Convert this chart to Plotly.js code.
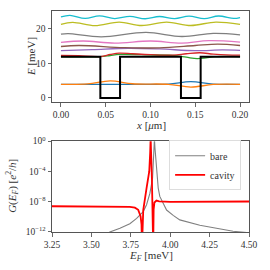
<!DOCTYPE html>
<html>
<head>
<meta charset="utf-8">
<script src="https://cdn.plot.ly/plotly-3.0.1.min.js"></script>
<style>html,body{margin:0;padding:0;background:#fff;}#plot{width:270px;height:270px;}</style>
</head>
<body>
<div id="plot"></div>
<script>
// ---- Top panel: energy levels (x in µm, E in meV) ----
const potX = [0, 0.044, 0.044, 0.066, 0.066, 0.134, 0.134, 0.156, 0.156, 0.2];
const potE = [11.9, 11.9, 0, 0, 11.9, 11.9, 0, 0, 11.9, 11.9];

const blueX = [0, 0.03, 0.055, 0.08, 0.12, 0.145, 0.17, 0.2];
const blueE = [3.95, 3.95, 3.9, 3.95, 4.0, 4.7, 4.0, 3.95];
const orangeX = [0, 0.03, 0.055, 0.08, 0.12, 0.145, 0.17, 0.2];
const orangeE = [3.95, 4.05, 4.95, 4.1, 3.95, 3.15, 3.9, 3.95];
const greenX = [0, 0.044, 0.055, 0.065, 0.09, 0.125, 0.14, 0.152, 0.162, 0.172, 0.2];
const greenE = [12.0, 11.95, 12.3, 12.6, 12.55, 12.3, 11.8, 11.4, 11.6, 11.95, 12.0];
const redX = [0, 0.02, 0.044, 0.055, 0.065, 0.08, 0.1, 0.125, 0.14, 0.155, 0.17, 0.185, 0.2];
const redE = [12.3, 12.25, 12.0, 12.6, 13.0, 12.8, 12.55, 12.4, 12.8, 13.1, 12.7, 12.45, 12.4];
const purpleX = [0, 0.035, 0.075, 0.11, 0.15, 0.18, 0.2];
const purpleE = [13.7, 14.0, 14.4, 14.2, 13.7, 13.9, 13.8];
const brownX = [0, 0.02, 0.07, 0.11, 0.15, 0.175, 0.2];
const brownE = [14.9, 15.2, 14.6, 14.5, 15.2, 15.6, 15.2];
const pinkX = [0, 0.025, 0.06, 0.1, 0.135, 0.165, 0.2];
const pinkE = [16.1, 16.5, 15.9, 16.5, 15.9, 16.6, 16.2];
const grayX = [0, 0.008, 0.045, 0.095, 0.135, 0.17, 0.2];
const grayE = [18.5, 18.65, 17.7, 19.0, 17.8, 18.7, 18.3];
const oliveX = [0, 0.013, 0.038, 0.065, 0.09, 0.118, 0.145, 0.173, 0.2];
const oliveE = [21.3, 21.9, 20.95, 22.0, 21.0, 22.0, 21.0, 22.0, 21.3];
const cyanX = [0, 0.01, 0.027, 0.043, 0.06, 0.077, 0.094, 0.11, 0.127, 0.143, 0.16, 0.176, 0.193, 0.2];
const cyanE = [23.5, 23.95, 23.05, 23.8, 23.0, 23.65, 22.95, 23.6, 23.0, 23.7, 23.0, 23.75, 23.05, 23.3];

// ---- Bottom panel: conductance (log10 of G) ----
const bareEF = [3.50, 3.617, 3.681, 3.744, 3.787, 3.829, 3.850, 3.871, 3.888, 3.893, 3.897, 3.900, 3.903, 3.908, 3.9135, 3.924, 3.934, 3.977, 4.019, 4.061, 4.188, 4.294, 4.399, 4.50];
const bareLogG = [-13.5, -12.0, -11.5, -10.9, -10.2, -9.3, -8.4, -6.9, -4.9, -3.0, -1.0, 0.3, -0.8, -2.0, -3.1, -6.2, -7.3, -9.1, -9.8, -10.4, -11.1, -11.5, -11.9, -12.1];
const cavEF = [3.25, 3.40, 3.55, 3.65, 3.744, 3.776, 3.797, 3.812, 3.818, 3.821, 3.824, 3.829, 3.850, 3.867, 3.873, 3.876, 3.878, 3.884, 3.889, 3.892, 3.895, 3.900, 3.913, 3.930, 4.00, 4.25, 4.50];
const cavLogG = [-8.6, -8.6, -8.62, -8.64, -8.67, -8.78, -9.07, -9.9, -11.0, -14.0, -11.0, -9.1, -6.2, -4.0, -1.5, 0.5, -1.0, -5.0, -9.0, -14.0, -9.0, -8.1, -7.85, -7.95, -8.03, -8.0, -7.97];

// axis titles and tick labels
const topXTitle = '<i>x</i> [<i>μ</i>m]';
const topYTitle = '<i>E</i> [meV]';
const botXTitle = '<i>E<sub>F</sub></i> [meV]';
const botYTitle = '<i>G</i>(<i>E<sub>F</sub></i>) [<i>e</i><sup>2</sup>/<i>h</i>]';
const topXTicks = [0, 0.05, 0.1, 0.15, 0.2];
const topXTickText = ['0.00','0.05','0.10','0.15','0.20'];
const topYTicks = [0, 10, 20];
const botXTicks = [3.25, 3.5, 3.75, 4.0, 4.25, 4.5];
const botXTickText = ['3.25','3.50','3.75','4.00','4.25','4.50'];
const botYTicks = [1e-12, 1e-8, 1e-4, 1];
const botYTickText = ['10<sup>−12</sup>','10<sup>−8</sup>','10<sup>−4</sup>','10<sup>0</sup>'];

const topColors = ['#1f77b4','#ff7f0e','#2ca02c','#d62728','#9467bd','#8c564b','#e377c2','#7f7f7f','#bcbd22','#17becf'];
const topSeries = [[blueX,blueE],[orangeX,orangeE],[greenX,greenE],[redX,redE],[purpleX,purpleE],[brownX,brownE],[pinkX,pinkE],[grayX,grayE],[oliveX,oliveE],[cyanX,cyanE]];

const traces = [];
topSeries.forEach((s, i) => {
  traces.push({x: s[0], y: s[1], type: 'scatter', mode: 'lines', xaxis: 'x', yaxis: 'y',
    line: {color: topColors[i], width: 1.3, shape: 'spline', smoothing: 1}, showlegend: false, hoverinfo: 'skip'});
});
traces.push({x: potX, y: potE, type: 'scatter', mode: 'lines', xaxis: 'x', yaxis: 'y',
  line: {color: '#000', width: 2}, showlegend: false});

const pow10 = a => a.map(v => Math.pow(10, v));
traces.push({x: bareEF, y: pow10(bareLogG), type: 'scatter', mode: 'lines', name: 'bare', xaxis: 'x2', yaxis: 'y2',
  line: {color: '#808080', width: 1.1}});
traces.push({x: cavEF, y: pow10(cavLogG), type: 'scatter', mode: 'lines', name: 'cavity', xaxis: 'x2', yaxis: 'y2',
  line: {color: '#ff0000', width: 1.8}});

const fontFam = '"Liberation Serif", "DejaVu Serif", serif';
const axCommon = {showgrid: false, zeroline: false, showline: true, mirror: true, linecolor: '#555', linewidth: 1,
  ticks: 'outside', ticklen: 3.5, tickwidth: 0.8, tickcolor: '#444', tickfont: {family: fontFam, size: 9.5, color: '#333'}};
const titleFont = {family: fontFam, size: 11, color: '#333'};

const layout = {
  width: 270, height: 270,
  margin: {l: 52, r: 20.5, t: 11, b: 38.3},
  paper_bgcolor: '#fff', plot_bgcolor: '#fff',
  font: {family: fontFam, color: '#333'},
  xaxis: Object.assign({}, axCommon, {anchor: 'y', domain: [0, 1], range: [-0.01, 0.21],
    tickvals: topXTicks, ticktext: topXTickText}),
  yaxis: Object.assign({}, axCommon, {anchor: 'x', domain: [0.588, 1], range: [-1.2, 25.2],
    tickvals: topYTicks}),
  xaxis2: Object.assign({}, axCommon, {anchor: 'y2', domain: [0, 1], range: [3.25, 4.5],
    tickvals: botXTicks, ticktext: botXTickText}),
  yaxis2: Object.assign({}, axCommon, {anchor: 'x2', domain: [0, 0.411], type: 'log', range: [-12, 0],
    tickvals: botYTicks, ticktext: botYTickText}),
  annotations: [
    {text: topXTitle, xref: 'paper', yref: 'paper', x: 0.5, y: 0.486, xanchor: 'center', yanchor: 'middle', showarrow: false, font: titleFont},
    {text: botXTitle, xref: 'paper', yref: 'paper', x: 0.5, y: -0.108, xanchor: 'center', yanchor: 'middle', showarrow: false, font: titleFont},
    {text: topYTitle, xref: 'paper', yref: 'paper', x: -0.106, y: 0.792, xanchor: 'center', yanchor: 'middle', textangle: -90, showarrow: false, font: titleFont},
    {text: botYTitle, xref: 'paper', yref: 'paper', x: -0.2, y: 0.207, xanchor: 'center', yanchor: 'middle', textangle: -90, showarrow: false, font: titleFont}
  ],
  legend: {x: 0.96, xanchor: 'right', y: 0.415, yanchor: 'top', bgcolor: 'rgba(255,255,255,0.9)',
    bordercolor: '#ddd', borderwidth: 1, font: {family: fontFam, size: 10, color: '#333'},
    tracegroupgap: 0, itemwidth: 30},
  showlegend: true
};

Plotly.newPlot('plot', traces, layout, {staticPlot: true, displayModeBar: false});
</script>
</body>
</html>
